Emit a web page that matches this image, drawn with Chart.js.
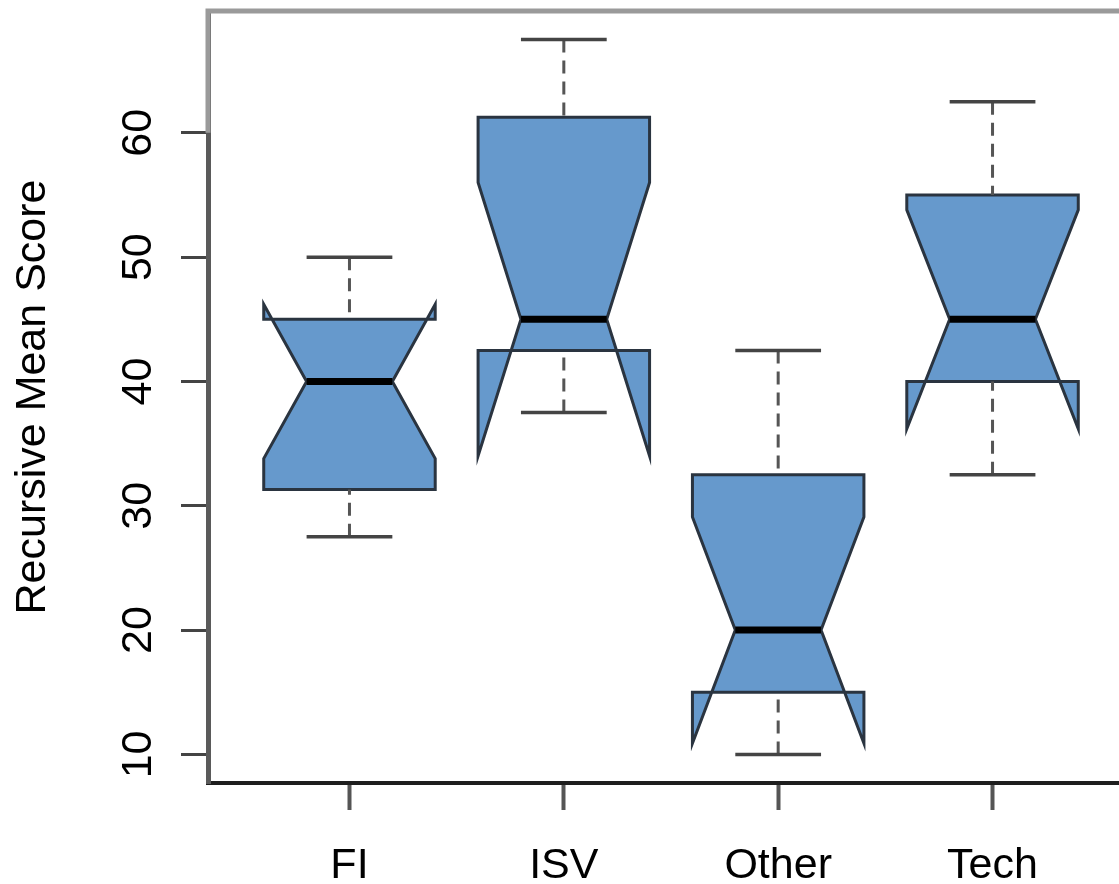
<!DOCTYPE html>
<html>
<head>
<meta charset="utf-8">
<script src="https://cdn.jsdelivr.net/npm/chart.js@4/dist/chart.umd.min.js"></script>
<style>
  html, body { margin: 0; padding: 0; background: #fff; overflow: hidden; }
  #wrap { width: 1119px; height: 884px; }
</style>
</head>
<body>
<div id="wrap"><canvas id="c" width="1119" height="884"></canvas></div>
<script>
// Notched box plot statistics per sector
const categories = ['FI', 'ISV', 'Other', 'Tech'];
const whiskerLow = [27.5, 37.5, 10, 32.5];
const lowerQuartile = [31.3, 42.5, 15, 40];
const median = [40, 45, 20, 45];
const upperQuartile = [45, 61.25, 32.5, 55];
const whiskerHigh = [50, 67.5, 42.5, 62.5];
const notchLow = [33.8, 34, 10.9, 36.2];
const notchHigh = [46.2, 56, 29.1, 53.8];
const yTicks = [10, 20, 30, 40, 50, 60];
const yTitle = 'Recursive Mean Score';

const FONT = "'Liberation Sans', Arial, Helvetica, sans-serif";
const FONT_SIZE = 43;
Chart.defaults.font.family = FONT;

// Draws the notched boxes, whiskers, caps and medians on the chart's scales
const notchedBoxes = {
  id: 'notchedBoxes',
  afterDatasetsDraw(chart) {
    const { ctx, scales: { x, y } } = chart;
    const unit = x.getPixelForValue(2) - x.getPixelForValue(1);
    const halfBox = 0.4 * unit;
    const halfWaist = 0.2 * unit;
    const halfCap = 0.2 * unit;
    const py = v => y.getPixelForValue(v);

    categories.forEach((cat, i) => {
      const cx = x.getPixelForValue(i + 1);
      ctx.save();

      // notched box outline (self-intersecting where the notch passes the hinge)
      ctx.beginPath();
      ctx.moveTo(cx - halfBox, py(upperQuartile[i]));
      ctx.lineTo(cx + halfBox, py(upperQuartile[i]));
      ctx.lineTo(cx + halfBox, py(notchHigh[i]));
      ctx.lineTo(cx + halfWaist, py(median[i]));
      ctx.lineTo(cx + halfBox, py(notchLow[i]));
      ctx.lineTo(cx + halfBox, py(lowerQuartile[i]));
      ctx.lineTo(cx - halfBox, py(lowerQuartile[i]));
      ctx.lineTo(cx - halfBox, py(notchLow[i]));
      ctx.lineTo(cx - halfWaist, py(median[i]));
      ctx.lineTo(cx - halfBox, py(notchHigh[i]));
      ctx.closePath();
      ctx.fillStyle = '#6699cc';
      ctx.fill();
      ctx.strokeStyle = '#2a3440';
      ctx.lineWidth = 3;
      ctx.lineJoin = 'miter';
      ctx.stroke();

      // dashed whiskers, drawn from the extreme towards the box
      ctx.setLineDash([13, 8]);
      ctx.strokeStyle = '#555';
      ctx.lineWidth = 3;
      ctx.beginPath();
      ctx.moveTo(cx, py(whiskerHigh[i]));
      ctx.lineTo(cx, py(upperQuartile[i]));
      ctx.moveTo(cx, py(whiskerLow[i]));
      ctx.lineTo(cx, py(lowerQuartile[i]));
      ctx.stroke();
      ctx.setLineDash([]);

      // staples
      ctx.strokeStyle = '#444';
      ctx.lineWidth = 3.5;
      ctx.beginPath();
      ctx.moveTo(cx - halfCap, py(whiskerHigh[i]));
      ctx.lineTo(cx + halfCap, py(whiskerHigh[i]));
      ctx.moveTo(cx - halfCap, py(whiskerLow[i]));
      ctx.lineTo(cx + halfCap, py(whiskerLow[i]));
      ctx.stroke();

      // median
      ctx.strokeStyle = '#000';
      ctx.lineWidth = 7;
      ctx.lineCap = 'butt';
      ctx.beginPath();
      ctx.moveTo(cx - halfWaist, py(median[i]));
      ctx.lineTo(cx + halfWaist, py(median[i]));
      ctx.stroke();

      ctx.restore();
    });
  },
  afterDraw(chart) {
    const { ctx, chartArea, scales: { y } } = chart;
    ctx.save();
    // upper frame edge and the lighter top part of the left edge
    ctx.strokeStyle = '#9a9a9a';
    ctx.lineWidth = 5;
    ctx.beginPath();
    ctx.moveTo(chartArea.left - 2.5, chartArea.top);
    ctx.lineTo(chartArea.right + 5, chartArea.top);
    ctx.moveTo(chartArea.left, chartArea.top);
    ctx.lineTo(chartArea.left, y.getPixelForValue(yTicks[yTicks.length - 1]));
    ctx.stroke();

    // vertical tick labels on the value axis
    ctx.fillStyle = '#000';
    ctx.font = FONT_SIZE + 'px ' + FONT;
    ctx.textAlign = 'center';
    ctx.textBaseline = 'alphabetic';
    yTicks.forEach(v => {
      ctx.save();
      ctx.translate(151, y.getPixelForValue(v));
      ctx.rotate(-Math.PI / 2);
      ctx.fillText(String(v), 0, 0);
      ctx.restore();
    });
    ctx.restore();
  }
};

new Chart(document.getElementById('c'), {
  type: 'scatter',
  data: {
    datasets: [{
      label: 'median',
      data: median.map((m, i) => ({ x: i + 1, y: m })),
      pointRadius: 0,
      showLine: false
    }]
  },
  options: {
    responsive: false,
    animation: false,
    devicePixelRatio: 1,
    layout: { padding: { top: 11, left: 0, right: 0, bottom: 0 } },
    plugins: { legend: { display: false }, tooltip: { enabled: false } },
    scales: {
      x: {
        type: 'linear',
        min: 0.34,
        max: 4.59,
        afterBuildTicks: s => { s.ticks = categories.map((c, i) => ({ value: i + 1 })); },
        afterFit: s => { s.height = 101; },
        ticks: {
          callback: (v, idx) => categories[idx],
          font: { size: FONT_SIZE },
          color: '#000',
          padding: 30,
          autoSkip: false,
          maxRotation: 0,
          minRotation: 0
        },
        grid: { drawOnChartArea: false, drawTicks: true, tickLength: 27, tickColor: '#555', tickWidth: 4 },
        border: { display: true, color: '#1e1e1e', width: 4 }
      },
      y: {
        type: 'linear',
        min: 7.7,
        max: 69.8,
        afterBuildTicks: s => { s.ticks = yTicks.map(v => ({ value: v })); },
        afterFit: s => { s.width = 208; },
        ticks: { display: false },
        grid: { drawOnChartArea: false, drawTicks: true, tickLength: 27, tickColor: '#444', tickWidth: 3 },
        border: { display: true, color: '#5a5a5a', width: 5 },
        title: {
          display: true,
          text: yTitle,
          color: '#000',
          font: { size: FONT_SIZE },
          padding: { top: 7, bottom: 0 }
        }
      }
    }
  },
  plugins: [notchedBoxes]
});
</script>
</body>
</html>
